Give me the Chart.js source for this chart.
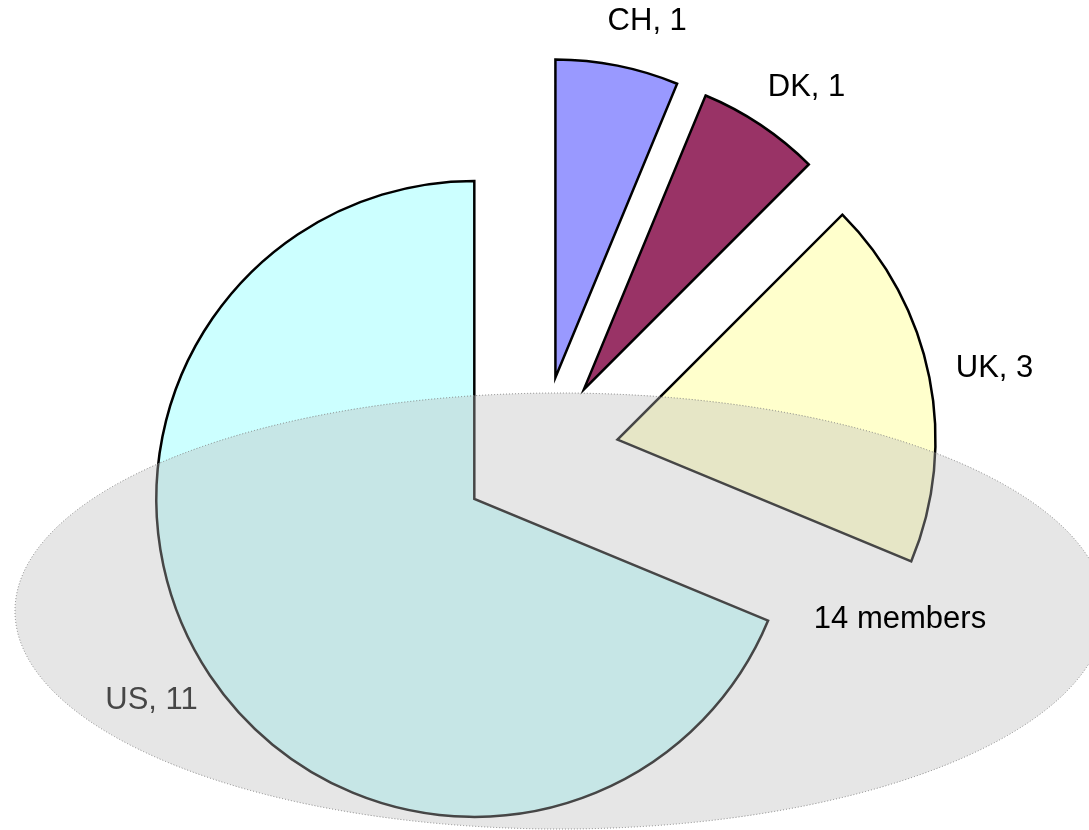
<!DOCTYPE html>
<html>
<head>
<meta charset="utf-8">
<title>Members by country</title>
<script src="https://cdn.jsdelivr.net/npm/chart.js@4.4.1/dist/chart.umd.min.js"></script>
<style>
    html, body { margin: 0; padding: 0; background: #ffffff; }
    #wrap { position: relative; width: 1089px; height: 830px; }
</style>
</head>
<body>
<div id="wrap"><canvas id="membersChart"></canvas></div>
<script>
// Chart data
const countries = ['CH', 'DK', 'UK', 'US'];
const members = [1, 1, 3, 11];
const sliceColors = ['#9999FF', '#993366', '#FFFFCC', '#CCFFFF'];
const noteText = '14 members';

// Layout / style constants
const EXPLODE = 79;        // distance every slice is pulled out of the centre
const PIE_RADIUS = 318;
const LABEL_DIST = 442;    // label centre distance from the pie centre
const LABEL_PUSH = 21;     // labels are nudged sideways, away from the pie
const LABEL_FONT = '31px "Liberation Sans", Arial, sans-serif';
const OVAL = { cx: 560, cy: 611, rx: 545, ry: 218 };

// Draw each slice shifted outwards along its middle angle
const explodePlugin = {
    id: 'explode',
    beforeDatasetDraw(chart, args) {
        const ctx = chart.ctx;
        args.meta.data.forEach(arc => {
            const mid = (arc.startAngle + arc.endAngle) / 2;
            ctx.save();
            ctx.translate(Math.cos(mid) * EXPLODE, Math.sin(mid) * EXPLODE);
            arc.draw(ctx, chart.chartArea);
            ctx.restore();
        });
        return false;
    }
};

// Slice labels, then the translucent oval and its note on top
const overlayPlugin = {
    id: 'overlay',
    afterDatasetsDraw(chart) {
        const ctx = chart.ctx;
        const meta = chart.getDatasetMeta(0);

        ctx.save();
        ctx.font = LABEL_FONT;
        ctx.fillStyle = '#000000';
        ctx.textAlign = 'center';
        ctx.textBaseline = 'middle';
        meta.data.forEach((arc, i) => {
            const mid = (arc.startAngle + arc.endAngle) / 2;
            const label = countries[i] + ', ' + members[i];
            const side = Math.cos(mid) >= 0 ? 1 : -1;
            const x = arc.x + Math.cos(mid) * LABEL_DIST + side * LABEL_PUSH;
            const y = arc.y + Math.sin(mid) * LABEL_DIST;
            ctx.fillText(label, x, y);
        });

        // grey oval laid over the pie
        ctx.beginPath();
        ctx.ellipse(OVAL.cx, OVAL.cy, OVAL.rx, OVAL.ry, 0, 0, Math.PI * 2);
        ctx.fillStyle = 'rgba(188, 188, 188, 0.373)';
        ctx.fill();
        ctx.setLineDash([1, 2]);
        ctx.lineWidth = 1;
        ctx.strokeStyle = '#808080';
        ctx.stroke();
        ctx.setLineDash([]);

        ctx.fillStyle = '#000000';
        ctx.fillText(noteText, OVAL.cx + 340, OVAL.cy + 8);
        ctx.restore();
    }
};

document.addEventListener('DOMContentLoaded', function() {
    const ctx = document.getElementById('membersChart').getContext('2d');

    new Chart(ctx, {
        type: 'pie',
        data: {
            labels: countries,
            datasets: [{
                data: members,
                backgroundColor: sliceColors,
                borderColor: '#000000',
                borderWidth: 2.5,
                borderJoinStyle: 'miter',
                radius: PIE_RADIUS,
                clip: false
            }]
        },
        options: {
            responsive: true,
            maintainAspectRatio: false,
            animation: false,
            layout: {
                padding: { top: 80, right: 9, bottom: 0, left: 0 }
            },
            plugins: {
                legend: { display: false },
                tooltip: { enabled: false }
            }
        },
        plugins: [explodePlugin, overlayPlugin]
    });
});
</script>
</body>
</html>
